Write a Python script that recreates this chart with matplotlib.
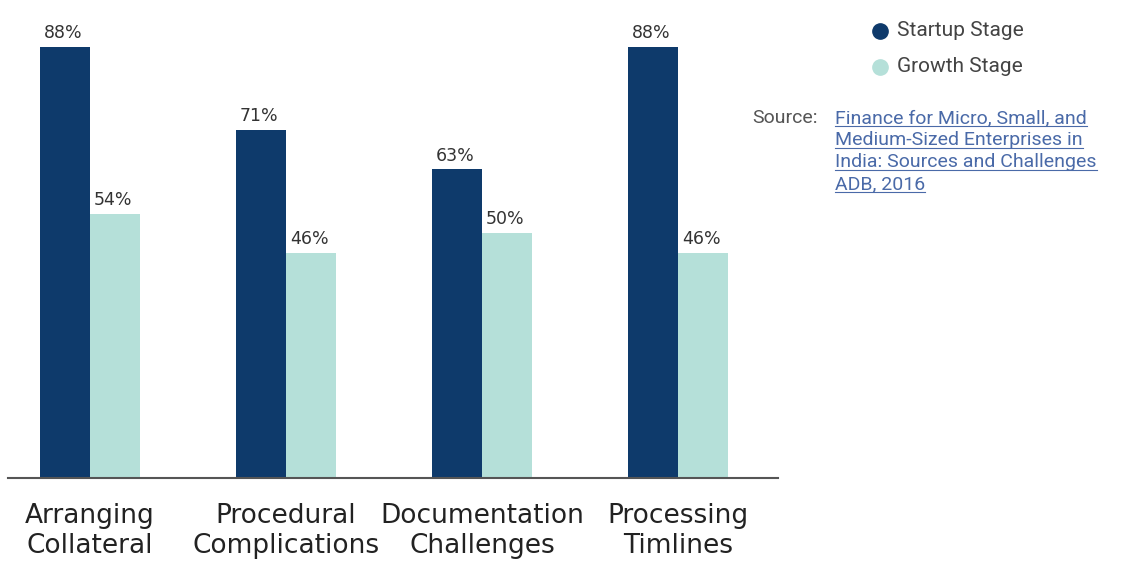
import matplotlib
matplotlib.use("Agg")
import matplotlib.pyplot as plt
import numpy as np

categories = ["Arranging\nCollateral", "Procedural\nComplications",
              "Documentation\nChallenges", "Processing\nTimlines"]
startup = [88, 71, 63, 88]
growth = [54, 46, 50, 46]
series_names = ["Startup Stage", "Growth Stage"]
source_lines = ["Finance for Micro, Small, and", "Medium-Sized Enterprises in",
                "India: Sources and Challenges", "ADB, 2016"]

dark = "#0e3a6b"
light = "#b5e0d9"
W, H = 1132, 566

fig = plt.figure(figsize=(W / 100, H / 100), dpi=100)
ax = fig.add_axes([8 / W, 88 / H, 770 / W, 478 / H])

x = np.arange(len(categories))
w = 0.255
b1 = ax.bar(x - w / 2, startup, w, color=dark)
b2 = ax.bar(x + w / 2, growth, w, color=light)

for bars, vals in [(b1, startup), (b2, growth)]:
    for r, v in zip(bars, vals):
        ax.text(r.get_x() + r.get_width() / 2 - 0.01, v + 1.0, f"{v}%",
                ha="center", va="bottom", fontsize=12.5, color="#333333")

ax.set_xlim(-0.418, 3.51)
ax.set_ylim(0, 97.6)
ax.set_yticks([])
ax.set_xticks(x)
ax.set_xticklabels(categories, fontsize=19, color="#222222", linespacing=1.2)
ax.tick_params(axis="x", length=0, pad=18)
for s in ["top", "right", "left"]:
    ax.spines[s].set_visible(False)
ax.spines["bottom"].set_color("#555555")
ax.spines["bottom"].set_linewidth(1.5)


def fx(px):
    return px / W


def fy(py):
    return 1 - py / H


# legend
for name, col, py in [(series_names[0], dark, 31), (series_names[1], light, 67)]:
    fig.lines.append(plt.Line2D([fx(880)], [fy(py)], marker="o", markersize=11,
                                color=col, transform=fig.transFigure, linestyle=""))
    fig.text(fx(897), fy(py), name, fontsize=15, color="#444444",
             va="center", family="Roboto")

fig.text(fx(752), fy(118), "Source:", fontsize=14, color="#555555",
         va="center", family="Roboto")
link_texts = []
for i, line in enumerate(source_lines):
    t = fig.text(fx(835), fy(118 + i * 22), line, fontsize=14,
                 color="#4a6aa8", va="center", family="Roboto")
    link_texts.append(t)

# underline the source link
fig.canvas.draw()
r = fig.canvas.get_renderer()
for t in link_texts:
    bb = t.get_window_extent(r)
    yb = bb.y0 + 1
    fig.lines.append(plt.Line2D([bb.x0 / W, bb.x1 / W], [yb / H, yb / H],
                                color="#4a6aa8", lw=0.8, transform=fig.transFigure))

fig.savefig("out.png", dpi=100)
